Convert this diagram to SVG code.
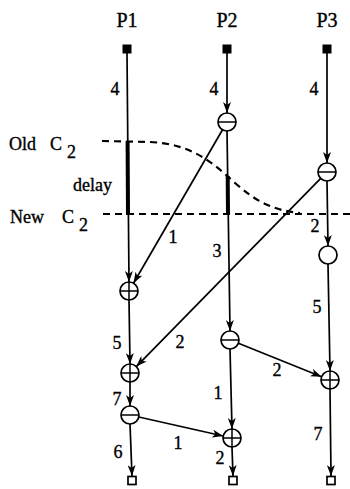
<svg xmlns="http://www.w3.org/2000/svg" width="350" height="489" viewBox="0 0 350 489" font-family="'Liberation Serif', 'DejaVu Serif', serif">
<style>
text{font-family:"Liberation Serif","DejaVu Serif",serif;fill:#000;stroke:#000;stroke-width:0.35}
.lab{font-size:18px;text-anchor:middle}
.hd{font-size:20px;text-anchor:middle}
.cut{font-size:18px}
.e{stroke:#000;stroke-width:1.7;fill:none}
.a{marker-end:url(#ah)}
.thick{stroke:#000;stroke-width:4}
.dash{stroke:#000;stroke-width:2.2;fill:none;stroke-dasharray:7 5}
.n{fill:#fff;stroke:#000;stroke-width:1.7}
.x{stroke:#000;stroke-width:1.5}
</style>
<defs>
<marker id="ah" markerUnits="userSpaceOnUse" markerWidth="12" markerHeight="8" refX="11" refY="4" orient="auto">
<path d="M0,0 L11,4 L0,8 L3,4 z" fill="#000"/>
</marker>
</defs>
<rect width="350" height="489" fill="#fff"/>
<g id="headers">
<text class="hd" x="127" y="27">P1</text>
<text class="hd" x="227" y="27">P2</text>
<text class="hd" x="327" y="27">P3</text>
</g>
<g id="cuts">
<path class="dash" d="M102,141 L150,142 C190,144 210,160 235,183 C255,200 270,210 300,213"/>
<line class="dash" x1="103" y1="214" x2="350" y2="214"/>
<text class="cut" x="9" y="150">Old</text>
<text class="cut" x="50" y="150">C</text>
<text class="cut" x="67" y="158">2</text>
<text class="cut" x="73" y="191">delay</text>
<text class="cut" x="10" y="223">New</text>
<text class="cut" x="62" y="223">C</text>
<text class="cut" x="79" y="231">2</text>
</g>
<g id="connectors">
<line class="e a" x1="127" y1="53" x2="129" y2="282"/>
<line class="thick" x1="127.6" y1="141" x2="128" y2="215"/>
<line class="e a" x1="129" y1="300" x2="130" y2="364"/>
<line class="e a" x1="130" y1="382" x2="130" y2="406"/>
<line class="e a" x1="130" y1="424" x2="132" y2="476"/>
<line class="e a" x1="227" y1="53" x2="227" y2="113"/>
<line class="e a" x1="227" y1="131" x2="230" y2="331"/>
<line class="thick" x1="227.7" y1="176" x2="228" y2="215"/>
<line class="e a" x1="230" y1="349" x2="232" y2="429"/>
<line class="e a" x1="232" y1="447" x2="233" y2="476"/>
<line class="e a" x1="327" y1="53" x2="327" y2="163"/>
<line class="e a" x1="327" y1="181" x2="328" y2="246"/>
<line class="e a" x1="328" y1="264" x2="330" y2="371"/>
<line class="e a" x1="330" y1="389" x2="331" y2="476"/>
<line class="e a" x1="222.5" y1="129.8" x2="133.5" y2="283.2"/>
<line class="e a" x1="320.7" y1="178.4" x2="136.3" y2="366.6"/>
<line class="e a" x1="238.4" y1="343.3" x2="321.6" y2="376.7"/>
<line class="e a" x1="138.8" y1="417" x2="223.2" y2="436"/>
</g>
<g id="labels">
<text class="lab" x="115" y="95">4</text>
<text class="lab" x="214" y="95">4</text>
<text class="lab" x="314" y="95">4</text>
<text class="lab" x="173" y="243">1</text>
<text class="lab" x="217" y="257">3</text>
<text class="lab" x="315" y="232">2</text>
<text class="lab" x="317" y="313">5</text>
<text class="lab" x="117" y="349">5</text>
<text class="lab" x="180" y="348">2</text>
<text class="lab" x="277" y="376">2</text>
<text class="lab" x="218" y="399">1</text>
<text class="lab" x="117" y="405">7</text>
<text class="lab" x="178" y="449">1</text>
<text class="lab" x="118" y="458">6</text>
<text class="lab" x="220" y="464">2</text>
<text class="lab" x="318" y="440">7</text>
</g>
<g id="P1-start"><rect x="122.5" y="44.5" width="9" height="9" fill="#000"/></g>
<g id="P2-start"><rect x="222.5" y="44.5" width="9" height="9" fill="#000"/></g>
<g id="P3-start"><rect x="322.5" y="44.5" width="9" height="9" fill="#000"/></g>
<g id="A"><circle class="n" cx="129" cy="291" r="9"/><line class="x" x1="120" y1="291" x2="138" y2="291"/><line class="x" x1="129" y1="282" x2="129" y2="300"/></g>
<g id="B"><circle class="n" cx="130" cy="373" r="9"/><line class="x" x1="121" y1="373" x2="139" y2="373"/><line class="x" x1="130" y1="364" x2="130" y2="382"/></g>
<g id="C"><circle class="n" cx="130" cy="415" r="9"/><line class="x" x1="121" y1="415" x2="139" y2="415"/></g>
<g id="D"><circle class="n" cx="227" cy="122" r="9"/><line class="x" x1="218" y1="122" x2="236" y2="122"/></g>
<g id="E"><circle class="n" cx="230" cy="340" r="9"/><line class="x" x1="221" y1="340" x2="239" y2="340"/></g>
<g id="F"><circle class="n" cx="232" cy="438" r="9"/><line class="x" x1="223" y1="438" x2="241" y2="438"/><line class="x" x1="232" y1="429" x2="232" y2="447"/></g>
<g id="G"><circle class="n" cx="327" cy="172" r="9"/><line class="x" x1="318" y1="172" x2="336" y2="172"/></g>
<g id="H"><circle class="n" cx="328" cy="255" r="9"/></g>
<g id="I"><circle class="n" cx="330" cy="380" r="9"/><line class="x" x1="321" y1="380" x2="339" y2="380"/><line class="x" x1="330" y1="371" x2="330" y2="389"/></g>
<g id="P1-end"><rect x="128" y="476.5" width="8" height="8" class="n"/></g>
<g id="P2-end"><rect x="229" y="476.5" width="8" height="8" class="n"/></g>
<g id="P3-end"><rect x="327" y="476.5" width="8" height="8" class="n"/></g>
</svg>
